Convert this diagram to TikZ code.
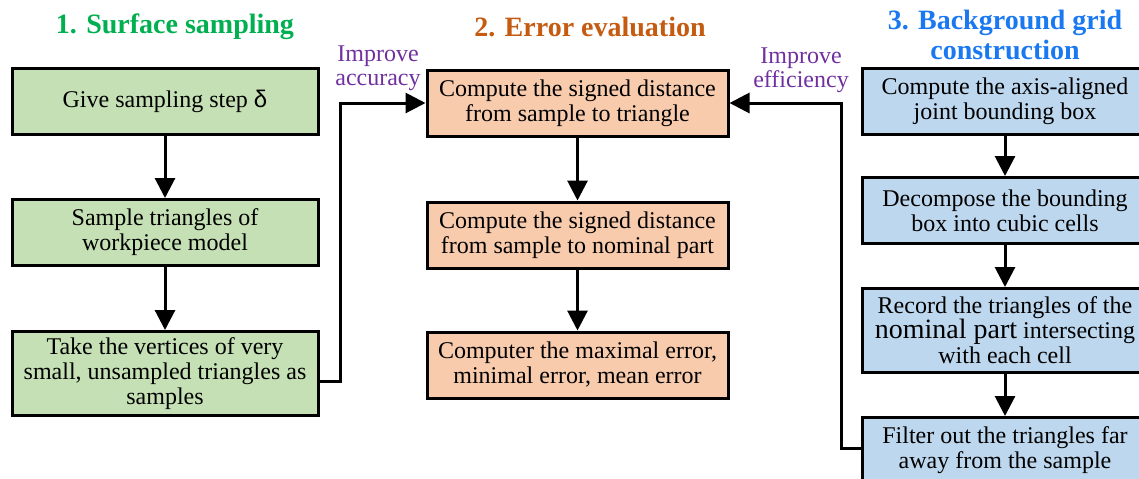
\documentclass[tikz,border=0pt]{standalone}
\usepackage{fontspec}
\setmainfont{Liberation Serif}
\newfontfamily\timesfont{Liberation Serif}
\newfontfamily\greekfont{Liberation Sans}
\usetikzlibrary{arrows.meta, positioning}

\definecolor{samplefill}{HTML}{C5E0B4}
\definecolor{errorfill}{HTML}{F8CBAD}
\definecolor{gridfill}{HTML}{BDD7EE}
\definecolor{sampletitle}{HTML}{00B050}
\definecolor{errortitle}{HTML}{C55A11}
\definecolor{gridtitle}{HTML}{1A78F0}
\definecolor{notepurple}{HTML}{7030A0}

\begin{document}
\begin{tikzpicture}[
    x=0.5pt, y=-0.5pt,
    box/.style={rectangle, draw, line width=1.5pt, align=center, minimum height=33pt, inner sep=2pt, font=\timesfont\fontsize{12}{12.5}\selectfont},
    samplebox/.style={box, fill=samplefill, minimum width=153pt},
    errorbox/.style={box, fill=errorfill, minimum width=150.5pt},
    gridbox/.style={box, fill=gridfill, minimum width=143pt},
    title/.style={align=center, font=\timesfont\fontsize{14}{15}\selectfont\bfseries},
    note/.style={align=center, text=notepurple, font=\timesfont\fontsize{12}{12}\selectfont},
    arrow/.style={-{Triangle[length=10pt,width=10pt]}, line width=1.5pt}
]
\useasboundingbox (0,0) rectangle (1139,478);

% column 1
\node[title, text=sampletitle] (title1) at (175,27) {1. Surface sampling};
\node[samplebox] (step) at (165,101.5) {Give sampling step {\greekfont δ}};
\node[samplebox, below=31pt of step] (sample) {Sample triangles of\\workpiece model};
\node[samplebox, below=31.5pt of sample, minimum height=42pt] (take) {Take the vertices of very\\small, unsampled triangles as\\samples};

% column 2
\node[title, text=errortitle] (title2) at (590,27) {2. Error evaluation};
\node[errorbox] (signed) at (577.5,103) {Compute the signed distance\\from sample to triangle};
\node[errorbox, below=31.5pt of signed] (nominal) {Compute the signed distance\\from sample to nominal part};
\node[errorbox, below=30.5pt of nominal] (maxerr) {Computer the maximal error,\\minimal error, mean error};

% column 3
\node[title, text=gridtitle] (title3) at (1005,35) {3. Background grid\\construction};
\node[gridbox] (bbox) at (1005,101.5) {Compute the axis-aligned\\joint bounding box};
\node[gridbox, below=20pt of bbox] (cells) {Decompose the bounding\\box into cubic cells};
\node[gridbox, below=21pt of cells, minimum height=42pt] (record) {Record the triangles of the\\{\fontsize{14}{12.5}\selectfont nominal part} intersecting\\with each cell};
\node[gridbox, below=21pt of record] (filter) {Filter out the triangles far\\away from the sample};

% feedback labels
\node[note] (accuracy) at (378,68) {Improve\\accuracy};
\node[note] (efficiency) at (801,70) {Improve\\efficiency};

\draw[arrow] (step) -- (sample);
\draw[arrow] (sample) -- (take);
\draw[arrow] (signed) -- (nominal);
\draw[arrow] (nominal) -- (maxerr);
\draw[arrow] (bbox) -- (cells);
\draw[arrow] (cells) -- (record);
\draw[arrow] (record) -- (filter);
\draw[arrow] ([yshift=-4pt]take.east) -- ++(21,0) |- (signed.west);
\draw[arrow] ([yshift=1pt]filter.west) -- ++(-19,0) |- (signed.east);
\end{tikzpicture}
\end{document}
